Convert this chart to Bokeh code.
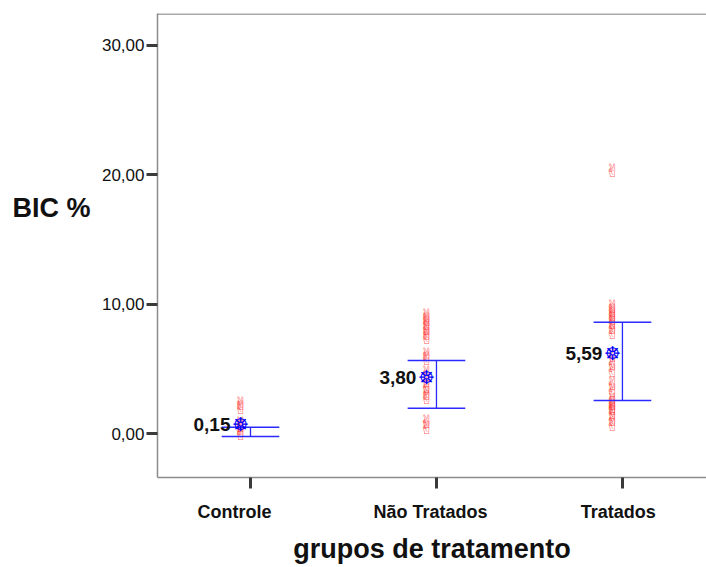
from bokeh.plotting import figure
from bokeh.models import FixedTicker, Range1d, Span, ColumnDataSource, LinearAxis
from bokeh.core.properties import value
from bokeh.embed import file_html
from bokeh.resources import INLINE

# ---- data ----
groups = ["Controle", "Não Tratados", "Tratados"]
means = [0.15, 3.80, 5.59]
ci_low = [-0.23, 1.95, 2.55]
ci_high = [0.48, 5.65, 8.60]
star_y = [0.72, 4.35, 6.20]

controle_vals = [2.3, 2.0, 0.8, 0.6, 0.2, 0.0]
nao_tratados_vals = [9.1, 8.8, 8.5, 8.1, 7.7, 7.4, 6.1, 5.8, 4.7, 4.1, 3.6, 3.1, 2.8, 0.9, 0.5]
tratados_vals = [20.3, 9.8, 9.5, 9.2, 8.9, 8.6, 8.2, 7.8, 6.0, 5.4, 4.9, 3.9, 3.3,
                 2.6, 2.3, 2.1, 1.9, 1.6, 1.1, 0.7]

y_ticks = [0, 10, 20, 30]
y_tick_labels = ["0,00", "10,00", "20,00", "30,00"]
y_title = "BIC %"
x_title = "grupos de tratamento"

# ---- style ----
point_offset = -0.054
cap_half = 0.155
label_nudge = [-0.086, -0.032, -0.022]   # horizontal nudge of category labels
font = "Liberation Sans"
axis_gray = "#8c8c8c"
tick_col = "#3a3a3a"
y_lo, y_hi = -3.40, 32.47

p = figure(width=706, height=567,
           x_range=Range1d(-0.5, 2.452), y_range=Range1d(y_lo, y_hi),
           output_backend="svg", toolbar_location=None,
           min_border_left=157, min_border_right=0, min_border_top=13, min_border_bottom=90)
p.grid.visible = False
p.outline_line_color = None
p.background_fill_color = "white"
p.border_fill_color = "white"

# axes
xa = p.xaxis[0]
xa.ticker = FixedTicker(ticks=list(range(len(groups))))
xa.major_label_text_font_size = "1px"
xa.major_label_text_color = None
xa.major_label_standoff = 0
ya = p.yaxis[0]
ya.ticker = FixedTicker(ticks=y_ticks)
ya.major_label_overrides = {t: l for t, l in zip(y_ticks, y_tick_labels)}
for ax in (xa, ya):
    ax.axis_line_color = axis_gray
    ax.axis_line_width = 1.5
    ax.major_tick_out = 11
    ax.major_tick_in = 0
    ax.major_tick_line_width = 3
    ax.major_tick_line_color = tick_col
    ax.minor_tick_line_color = None
    ax.major_label_text_font = font
ya.major_label_text_color = "#111111"
ya.major_label_text_font_size = "17px"
ya.major_label_standoff = 2

# category labels: a tick-less axis stacked below the tick axis
lab_ticks = [i + d for i, d in enumerate(label_nudge)]
la = LinearAxis(ticker=FixedTicker(ticks=lab_ticks),
                major_label_overrides={t: g for t, g in zip(lab_ticks, groups)})
la.axis_line_color = None
la.major_tick_line_color = None
la.minor_tick_line_color = None
la.major_tick_out = 0
la.major_tick_in = 0
la.major_label_text_font = font
la.major_label_text_font_size = "18px"
la.major_label_text_font_style = "bold"
la.major_label_text_color = "#111111"
la.major_label_standoff = 13
la.axis_label = x_title
la.axis_label_text_font = font
la.axis_label_text_font_size = "27px"
la.axis_label_text_font_style = "bold"
la.axis_label_text_color = "#111111"
la.axis_label_standoff = 9
p.add_layout(la, "below")

# horizontal y title drawn as the single label of an extra, line-less left axis
p.extra_y_ranges = {"ttl": Range1d(y_lo + 0.6, y_hi + 0.6)}
ta = LinearAxis(y_range_name="ttl", ticker=FixedTicker(ticks=[18]),
                major_label_overrides={18: y_title})
ta.axis_line_color = None
ta.major_tick_line_color = None
ta.minor_tick_line_color = None
ta.major_tick_out = 0
ta.major_tick_in = 0
ta.major_label_text_font = font
ta.major_label_text_font_size = "27px"
ta.major_label_text_font_style = "bold"
ta.major_label_text_color = "#111111"
ta.major_label_standoff = 8
p.add_layout(ta, "left")

p.add_layout(Span(location=y_hi - 0.03, dimension="width", line_color=axis_gray, line_width=1.5))

# points
px, py = [], []
for i, vals in enumerate([controle_vals, nao_tratados_vals, tratados_vals]):
    for v in vals:
        px.append(i + point_offset)
        py.append(v)
src_pts = ColumnDataSource(dict(x=px, y=py, t=["\u270c"] * len(px)))
p.text(x="x", y="y", text="t", source=src_pts, text_color="#ff2a2a", text_alpha=0.75,
       text_font=value("DejaVu Sans"), text_font_size="18px",
       text_align="center", text_baseline="middle")

# error bars
xs = list(range(len(groups)))
p.segment(x0=xs, y0=ci_low, x1=xs, y1=ci_high, line_color="#2a2aff", line_width=1.3)
p.segment(x0=[x - cap_half for x in xs], y0=ci_low, x1=[x + cap_half for x in xs], y1=ci_low,
          line_color="#2a2aff", line_width=1.5)
p.segment(x0=[x - cap_half for x in xs], y0=ci_high, x1=[x + cap_half for x in xs], y1=ci_high,
          line_color="#2a2aff", line_width=1.5)

# mean markers and labels
sx = [x + point_offset for x in xs]
src_star = ColumnDataSource(dict(x=sx, y=star_y, t=["\u2638"] * len(xs),
                                 lab=[f"{m:.2f}".replace(".", ",") for m in means]))
p.text(x="x", y="y", text="t", source=src_star, text_color="#0000ff",
       text_font=value("DejaVu Sans"), text_font_size="19px",
       text_align="center", text_baseline="middle")
p.text(x="x", y="y", text="lab", source=src_star, text_color="#111111",
       text_font=value(font), text_font_size="19px", text_font_style="bold",
       text_align="right", text_baseline="middle", x_offset=-10)

open("out.html", "w").write(file_html(p, INLINE))
